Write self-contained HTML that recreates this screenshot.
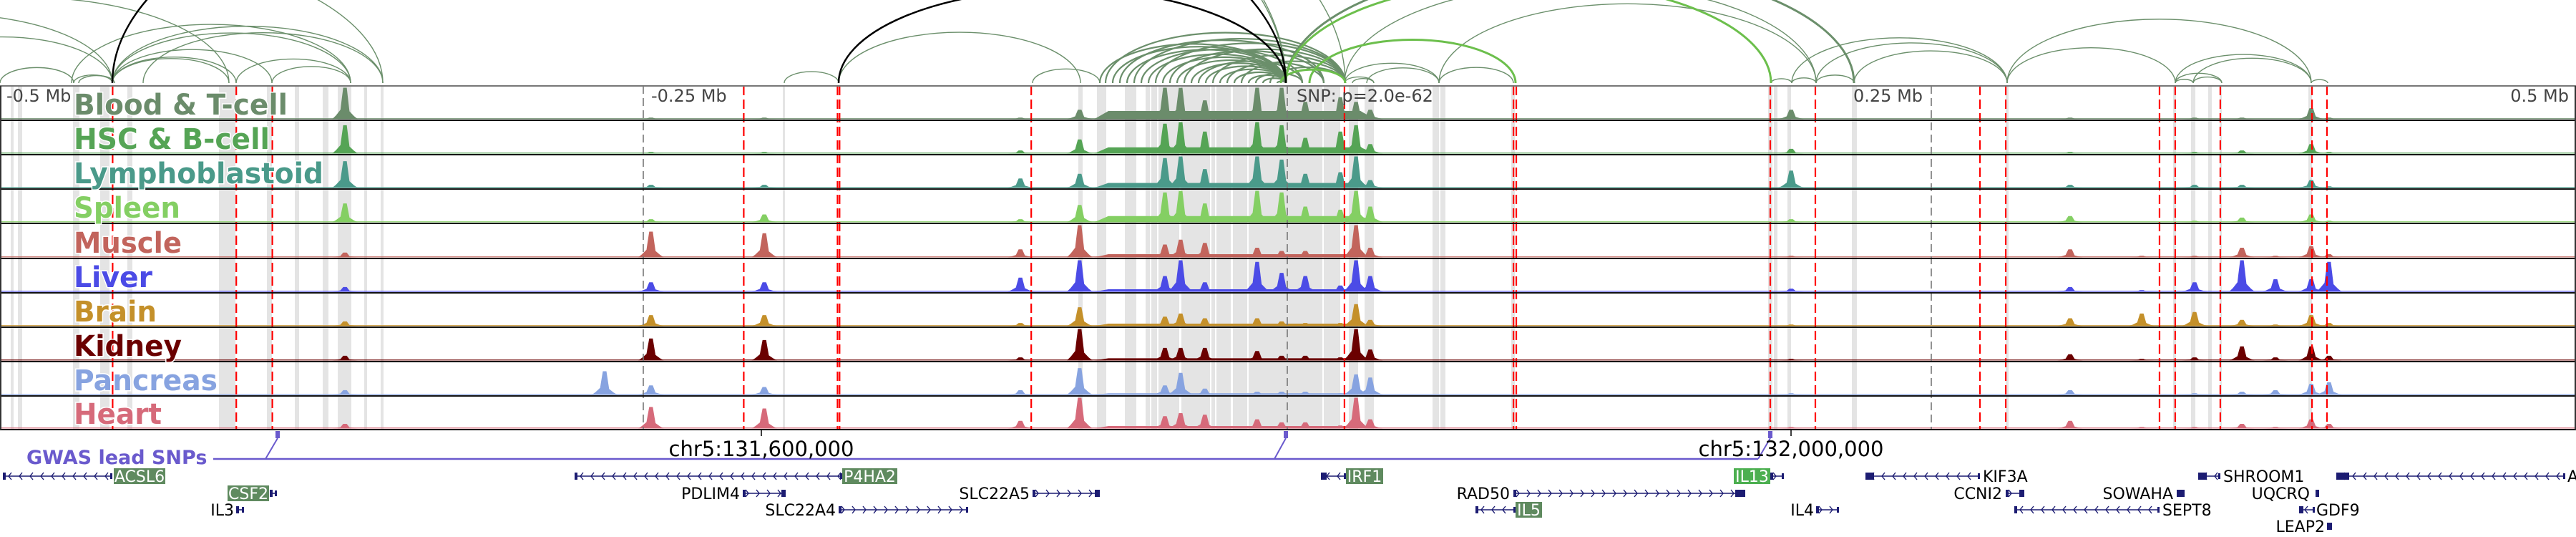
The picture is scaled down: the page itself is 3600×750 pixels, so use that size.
<!DOCTYPE html>
<html><head><meta charset="utf-8"><style>
html,body{margin:0;padding:0;background:#fff;}
svg{display:block;}
</style></head><body>
<svg id="fig" width="3600" height="750" viewBox="0 0 3600 750" xmlns="http://www.w3.org/2000/svg">
<g id="arcs"></g>
<g id="bands"></g>
<g id="tracks"></g>
<g id="vlines"></g>
<g id="frame"></g>
<g id="labels"></g>
<g id="genes"></g>
</svg>
<script>
// ---- data ----
const tissues = ["Blood & T-cell","HSC & B-cell","Lymphoblastoid","Spleen","Muscle","Liver","Brain","Kidney","Pancreas","Heart"];
const tissueColors = ["#6b8c6b","#55a455","#4a9a8a","#84cf63","#c2645c","#4b4be6","#c4902a","#6b0000","#87a3e0","#d66a7a"];
const labelWidths = [299,274,349,149,151,110,116,151,201,123];
const peakKb = [-365.8,-265,-247,-203,-103.6,-80.6,-47.5,-41.4,-32,-11.7,-2.2,7,20.6,26.7,32.2,195.6,303.9,331.7,352.2,370.6,383.6,397.5,404.4];
const bloodVals   = [1.0,0,.05,.05,.05,.3,1,1,.6,1,1,.55,.7,.55,.3,.3,.05,0,.05,.05,0,.35,.05];
const hscVals     = [.9,0,.05,.05,.1,.45,.95,1,.7,1,.9,.5,.7,.9,.3,.15,.05,0,.05,.1,0,.3,.05];
const lymphoVals  = [.85,0,.1,.1,.3,.45,.95,1,.6,1,.9,.45,.5,1,.25,.55,.1,0,.1,.1,0,.25,.05];
const spleenVals  = [.6,0,.1,.25,.1,.55,.95,1,.6,1,.95,.5,.4,1,.5,.1,.2,0,.05,.15,0,.25,.05];
const muscleVals  = [.15,0,.8,.75,.25,1,.4,.55,.45,.3,.2,.2,.1,1,.3,.05,.25,.05,.05,.3,.05,.35,.1];
const liverVals   = [.15,0,.3,.3,.45,1,.5,1,.3,.95,.6,.5,.2,1,.5,.1,.15,.05,.3,1,.4,.4,.95];
const brainVals   = [.15,0,.35,.35,.1,.6,.3,.4,.25,.25,.15,.1,.1,.7,.2,.05,.25,.4,.45,.2,.05,.35,.1];
const kidneyVals  = [.15,0,.7,.65,.1,1,.4,.4,.4,.3,.15,.15,.1,1,.35,.05,.2,.05,.1,.45,.1,.45,.15];
const pancreasVals= [.15,.75,.3,.25,.15,.85,.3,.7,.2,.1,.1,.1,.05,.65,.55,.05,.15,0,.05,.1,.15,.35,.4];
const heartVals   = [.15,0,.7,.65,.25,1,.4,.5,.45,.3,.2,.2,.1,1,.3,.05,.25,.05,.05,.15,.05,.3,.15];
const carpetVals  = [.26,.2,.16,.2,.1,.08,.08,.07,.05,.08];
const redLineKb = [-456,-408,-394,-211,-174.6,-173.8,-99.4,22.2,87.8,88.9,187.5,205,268.9,278.9,338.6,344.7,362.2,397.8,403.6,500.3];
const tickKb = [-500,-250,250,500];
const tickLabels = ["-0.5 Mb","-0.25 Mb","0.25 Mb","0.5 Mb"];
const bandsPx = [[15,19],[25,31],[102,111],[140,153],[178,185],[306,329],[373,380],[412,418],[451,459],[472,491],[509,513],[532,536],[1094,1097],
[1507,1513],[1533,1546],[1572,1588],[1601,1607],[1609,1617],[1619,1648],[1651,1691],[1693,1698],[1700,1720],[1723,1743],[1745,1848],[1850,1873],[1885,1898],[1907,1920],
[2002,2011],[2013,2020],[2112,2117],[2471,2477],[2479,2484],[2498,2503],[2588,2595],[2803,2807],[3037,3041],[3062,3068],[3086,3091],[3102,3105],[3226,3231]];
const arcsDark = [[-300,157],[-250,320],[-150,157],[-400,535],[0,103],[103,157],[110,160],[157,320],[157,330],[157,380],[157,490],[157,535],[100,490],[200,535],[330,490],[380,490],[1096,1172],[1172,1510],[1443,1537],[-700,1797],[-500,1797],[-300,1880],[1879,1920],[1890,1920],[1879,2011],[1910,2011],[2011,2115],[2011,2538],[1879,2538],[2475,2504],[2504,2538],[2538,2591],[2504,2805],[2538,2805],[2591,2805],[2805,3230],[2805,3040],[3040,3065],[3040,3105],[3065,3105],[3040,3230],[3065,3230],[3230,3253]];
const fanStarts = [1537,1545,1555,1565,1575,1585,1595,1605,1615,1625,1635,1645,1655,1665,1675,1685,1695,1705,1715,1725,1735,1745,1755,1765,1775,1785];
const fanEnds   = [1797,1880,1797,1850,1797,1880,1820,1797,1880,1797,1850,1797,1880,1797,1820,1797,1880,1797,1850,1797,1880,1797,1820,1797,1880,1797];
const arcsBright = [[1790,1880],[1830,2118],[1797,2475]];
const arcsThickDark = [[1797,2591]];
const arcsBlack = [[157,1797],[1172,1797]];

const X0 = 1799, PXKB = 3.6;
const xs = kb => X0 + kb*PXKB;
const tops = [120,168,216,264,312,361,409,457,505,553];
const bottoms = [168,216,264,312,361,409,457,505,553,600];
const NS = "http://www.w3.org/2000/svg";
function mk(tag, attrs, parent){const e=document.createElementNS(NS,tag);for(const k in attrs)e.setAttribute(k,attrs[k]);parent.appendChild(e);return e;}

// arcs
const arcG = document.getElementById('arcs');
const BASE = 116;
function arc(x1,x2,color,w,name){
  const rx=(x2-x1)/2, ry=0.21*(x2-x1);
  const p = mk('path',{d:`M${x1},${BASE} A${rx},${ry} 0 0 1 ${x2},${BASE}`,fill:'none',stroke:color,'stroke-width':w},arcG);
  
  
}
arcsDark.forEach(a=>arc(a[0],a[1],'#6b8f6b',1.4,'interaction-arc'));
fanStarts.forEach((s,i)=>arc(s,fanEnds[i],'#6b8f6b',2.2,'interaction-arc'));
arcsThickDark.forEach(a=>arc(a[0],a[1],'#6b8f6b',3,'interaction-arc'));
arcsBright.forEach(a=>arc(a[0],a[1],'#6cbf4c',3,'interaction-arc-strong'));
arcsBlack.forEach(a=>arc(a[0],a[1],'#000',2.5,'lead-snp-arc'));

// bands
const bandG = document.getElementById('bands');
bandsPx.forEach(b=>{
  const r = mk('rect',{x:b[0],y:120,width:b[1]-b[0],height:480,fill:'#e4e4e4'},bandG);
  
  
});

// tracks
const trackVals = [bloodVals,hscVals,lymphoVals,spleenVals,muscleVals,liverVals,brainVals,kidneyVals,pancreasVals,heartVals];
const trG = document.getElementById('tracks');
tissues.forEach((t,i)=>{
  const g = mk('g',{},trG);
  
  
  const base = bottoms[i]-1.5, H = bottoms[i]-tops[i]-4, c = tissueColors[i];
  mk('rect',{x:0,y:base-1.5,width:3600,height:1.5,fill:c,opacity:0.8},g);
  const cx1 = xs(-75), cx2 = xs(34);
  const ch = carpetVals[i]*H;
  mk('path',{d:`M${cx1},${base} L${cx1+20},${base-ch} L${cx2-20},${base-ch} L${cx2},${base} Z`,fill:c},g);
  peakKb.forEach((kb,j)=>{
    const v = trackVals[i][j]; if(v<=0) return;
    const x = xs(kb), h = v*H, w = 18;
    const p = mk('path',{d:`M${x-w},${base} L${x-w*0.7},${base-h*0.12} L${x-w*0.35},${base-h*0.3} L${x-5},${base-h*0.55} L${x-2.5},${base-h} L${x+2.5},${base-h} L${x+5},${base-h*0.5} L${x+w*0.35},${base-h*0.25} L${x+w*0.7},${base-h*0.1} L${x+w},${base} Z`,fill:c},g);
    
    
  });
});

// vertical lines
const vG = document.getElementById('vlines');
[-250,0,250].forEach(kb=>{
  const l = mk('line',{x1:xs(kb),x2:xs(kb),y1:120,y2:600,stroke:'#777','stroke-width':1.6,'stroke-dasharray':'11 6'},vG);
  
  
});
redLineKb.forEach(kb=>{
  const l = mk('line',{x1:xs(kb),x2:xs(kb),y1:120,y2:600,stroke:'#ff0000','stroke-width':2.2,'stroke-dasharray':'13 6'},vG);
  
  
});

// frame
const fG = document.getElementById('frame');
mk('line',{x1:0,x2:3600,y1:120,y2:120,stroke:'#777','stroke-width':2},fG);
bottoms.forEach(y=>mk('line',{x1:0,x2:3600,y1:y,y2:y,stroke:'#111','stroke-width':2},fG));
mk('line',{x1:1,x2:1,y1:120,y2:600,stroke:'#333','stroke-width':2},fG);
mk('line',{x1:3599,x2:3599,y1:120,y2:600,stroke:'#333','stroke-width':2},fG);

// labels
const lG = document.getElementById('labels');
tickKb.forEach((kb,i)=>{
  const anchor = i===3?'end':'start';
  const tx = i===0?9:(i===3?3590:(i===1?910:2590));
  const t = mk('text',{x:tx,y:142,'font-family':'DejaVu Sans, sans-serif','font-size':24,fill:'#444','text-anchor':anchor},lG);
  t.textContent = tickLabels[i];
  
  
});
const snpT = mk('text',{x:1812,y:142,'font-family':'DejaVu Sans, sans-serif','font-size':24,fill:'#444'},lG);
snpT.textContent = 'SNP: p=2.0e-62';


tissues.forEach((t,i)=>{
  const e = mk('text',{x:103,y:bottoms[i]-8,'font-family':'DejaVu Sans, sans-serif','font-weight':'bold','font-size':40,fill:tissueColors[i],stroke:'#fff','stroke-width':3,'paint-order':'stroke',textLength:labelWidths[i],lengthAdjust:'spacingAndGlyphs'},lG);
  e.textContent = t;
  
  
});

// gene track
const gG = document.getElementById('genes');
const NAVY = '#1c1c72';
function snp(x, xb){
  mk('rect',{x:x-3,y:602,width:6,height:10,fill:'#6a5acd'},gG);
  mk('line',{x1:x,y1:612,x2:xb,y2:641,stroke:'#6a5acd','stroke-width':2},gG);
}
mk('line',{x1:298,x2:2457,y1:641,y2:641,stroke:'#6a5acd','stroke-width':2.5},gG);
snp(388,371); snp(1797,1781); snp(2474,2457);
const gw = mk('text',{x:37,y:648,'font-family':'DejaVu Sans, sans-serif','font-weight':'bold','font-size':27,fill:'#6a5acd'},gG);
gw.textContent='GWAS lead SNPs';


[[1064,'chr5:131,600,000'],[2503,'chr5:132,000,000']].forEach(c=>{
  mk('line',{x1:c[0],x2:c[0],y1:600,y2:609,stroke:'#000','stroke-width':1.5},gG);
  const t = mk('text',{x:c[0],y:637,'font-family':'DejaVu Sans, sans-serif','font-size':29,fill:'#000','text-anchor':'middle'},gG);
  t.textContent=c[1];
  
  
});
function gene(x1,x2,y,dir){
  const g = mk('g',{},gG);
  
  
  mk('line',{x1:x1,x2:x2,y1:y,y2:y,stroke:NAVY,'stroke-width':1.6},g);
  for(let x=x1+8;x<x2-4;x+=15){
    const d = dir<0?`M${x+4},${y-5} L${x},${y} L${x+4},${y+5}`:`M${x-4},${y-5} L${x},${y} L${x-4},${y+5}`;
    mk('path',{d:d,fill:'none',stroke:NAVY,'stroke-width':1.4},g);
  }
  mk('rect',{x:x1,y:y-5,width:4,height:10,fill:NAVY},g);
  mk('rect',{x:x2-3,y:y-4,width:3,height:8,fill:NAVY},g);
}
function block(x,y,w){mk('rect',{x:x,y:y-5,width:w,height:10,fill:NAVY},gG);}
function label(x,y,txt,anchor){
  const t = mk('text',{x:x,y:y+8,'font-family':'DejaVu Sans, sans-serif','font-size':22,fill:'#000','text-anchor':anchor},gG);
  t.textContent=txt;
  
  
}
function boxLabel(x,y,w,txt,fill){
  mk('rect',{x:x,y:y-11,width:w,height:22,fill:fill},gG);
  const t = mk('text',{x:x+w/2,y:y+8,'font-family':'DejaVu Sans, sans-serif','font-size':22,fill:'#fff','text-anchor':'middle'},gG);
  t.textContent=txt;
  
  
}
const R1=665,R2=689,R3=712,R4=735;
gene(4,157,R1,-1); boxLabel(159,R1,72,'ACSL6','#5f8a5f');
gene(803,1177,R1,-1); boxLabel(1177,R1,77,'P4HA2','#5f8a5f');
gene(1846,1881,R1,-1); block(1846,R1,8); boxLabel(1881,R1,52,'IRF1','#5f8a5f');
boxLabel(2423,R1,51,'IL13','#4caf50'); gene(2474,2493,R1,1);
gene(2607,2767,R1,-1); block(2607,R1,12); label(2771,R1,'KIF3A','start');
gene(3072,3103,R1,-1); block(3072,R1,12); label(3107,R1,'SHROOM1','start');
gene(3265,3585,R1,-1); block(3265,R1,18); label(3588,R1,'A','start');
boxLabel(318,R2,58,'CSF2','#5f8a5f'); gene(377,387,R2,1);
label(1034,R2,'PDLIM4','end'); gene(1038,1097,R2,1); block(1092,R2,6);
label(1439,R2,'SLC22A5','end'); gene(1443,1537,R2,1); block(1530,R2,7);
label(2110,R2,'RAD50','end'); gene(2115,2438,R2,1); block(2425,R2,14);
label(2798,R2,'CCNI2','end'); gene(2803,2829,R2,1); block(2822,R2,7);
label(3037,R2,'SOWAHA','end'); block(3042,R2,11);
label(3228,R2,'UQCRQ','end'); block(3236,R2,5);
label(327,R3,'IL3','end'); gene(330,341,R3,1);
label(1168,R3,'SLC22A4','end'); gene(1172,1353,R3,1);
gene(2062,2118,R3,-1); boxLabel(2118,R3,37,'IL5','#5f8a5f');
label(2535,R3,'IL4','end'); gene(2538,2570,R3,1);
gene(2815,3018,R3,-1); label(3022,R3,'SEPT8','start');
gene(3213,3235,R3,-1); block(3213,R3,6); label(3237,R3,'GDF9','start');
label(3249,R4,'LEAP2','end'); block(3252,R4,7);
</script>
</body></html>
